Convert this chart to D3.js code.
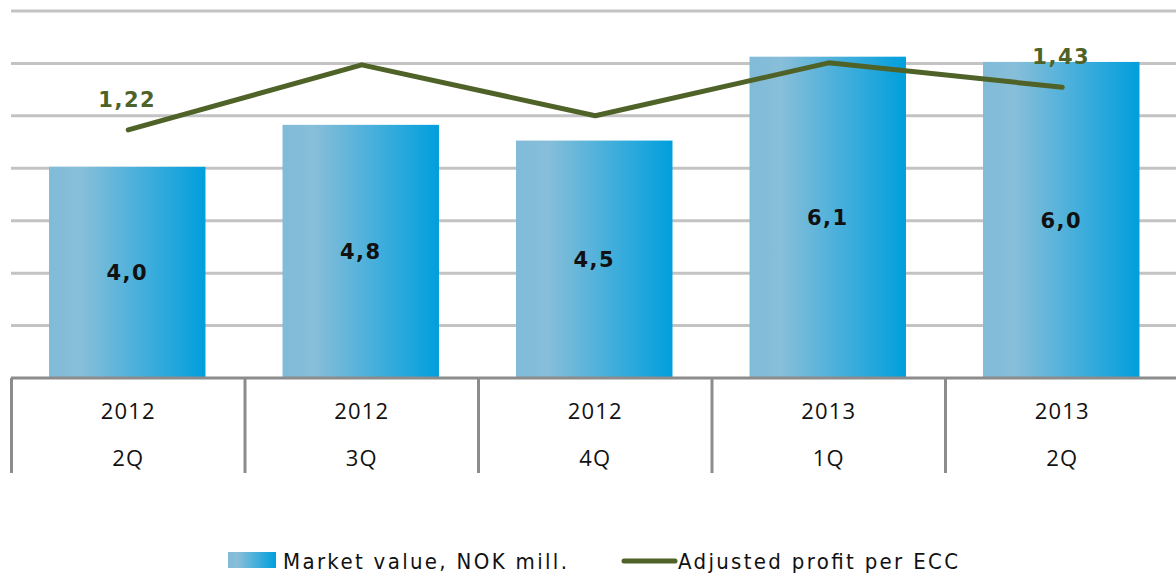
<!DOCTYPE html>
<html>
<head>
  <meta charset="utf-8">
  <script src="https://d3js.org/d3.v7.min.js"></script>
  <style>
    body { margin: 0; background: #fff; }
    svg { display: block; }
  </style>
</head>
<body>
  <svg id="chart" width="1176" height="576"></svg>

  <script>
    // data
    const years = ["2012", "2012", "2012", "2013", "2013"];
    const quarters = ["2Q", "3Q", "4Q", "1Q", "2Q"];
    const marketValue = [4.0, 4.8, 4.5, 6.1, 6.0];
    const profitPerEcc = [1.22, 1.54, 1.29, 1.55, 1.43];
    const labelledPoints = [0, 4]; // only first and last point carry a label
    const leftTicks = [1, 2, 3, 4, 5, 6, 7];

    const svg = d3.select("#chart");
    const keys = years.map((y, i) => i);
    const fmt = (v, n) => v.toFixed(n).replace(".", ",");

    // scales
    const x = d3.scaleBand().domain(keys).range([10.5, 1178]).paddingInner(0.33).paddingOuter(0.165);
    const y = d3.scaleLinear().domain([0, 7]).range([378, 11]);
    const y2 = d3.scaleLinear().domain([0, 1.8]).range([378, 12]);

    // gradient for bars
    const defs = svg.append("defs");
    const grad = defs.append("linearGradient").attr("id", "barGrad")
      .attr("x1", "0%").attr("x2", "100%").attr("y1", "0%").attr("y2", "0%");
    grad.append("stop").attr("offset", "0%").attr("stop-color", "#80bbd8");
    grad.append("stop").attr("offset", "20%").attr("stop-color", "#88bed9");
    grad.append("stop").attr("offset", "100%").attr("stop-color", "#009fdd");

    // gridlines
    svg.append("g")
      .selectAll("line")
      .data(leftTicks)
      .enter()
      .append("line")
      .attr("x1", 11)
      .attr("x2", 1176)
      .attr("y1", d => y(d))
      .attr("y2", d => y(d))
      .attr("stroke", "#c3c3c3")
      .attr("stroke-width", 3);

    // bars
    svg.append("g")
      .selectAll("rect")
      .data(keys)
      .enter()
      .append("rect")
      .attr("x", d => x(d))
      .attr("width", x.bandwidth())
      .attr("y", d => y(marketValue[d]) - 1.5)
      .attr("height", d => y(0) - y(marketValue[d]) + 1.5)
      .attr("fill", "url(#barGrad)");

    // bar labels
    svg.append("g")
      .selectAll("text")
      .data(keys)
      .enter()
      .append("text")
      .attr("x", d => x(d) + x.bandwidth() / 2)
      .attr("y", d => (y(marketValue[d]) + y(0)) / 2)
      .attr("text-anchor", "middle")
      .attr("dominant-baseline", "central")
      .style("font-family", "'DejaVu Sans', Verdana, sans-serif")
      .style("font-weight", "bold")
      .style("font-size", "21px")
      .style("letter-spacing", "1.5px")
      .attr("fill", "#111")
      .text(d => fmt(marketValue[d], 1));

    // category axis: base line + dividers
    const axis = svg.append("g");
    axis.append("line")
      .attr("x1", 11).attr("x2", 1176)
      .attr("y1", y(0)).attr("y2", y(0))
      .attr("stroke", "#8c8c8c").attr("stroke-width", 3);

    const edges = keys.map(d => x(d) - x.step() * x.paddingInner() / 2 + 1);
    axis.selectAll(".divider")
      .data(edges)
      .enter()
      .append("line")
      .attr("class", "divider")
      .attr("x1", d => d).attr("x2", d => d)
      .attr("y1", y(0)).attr("y2", 473)
      .attr("stroke", "#8c8c8c").attr("stroke-width", 3);

    const catFont = "'Open Sans', 'Noto Sans', sans-serif";
    axis.selectAll(".year")
      .data(keys)
      .enter()
      .append("text")
      .attr("class", "year")
      .attr("x", d => x(d) + x.bandwidth() / 2 + 1)
      .attr("y", 419)
      .attr("text-anchor", "middle")
      .style("font-family", catFont)
      .style("font-size", "22px")
      .style("letter-spacing", "1.2px")
      .attr("fill", "#111")
      .text(d => years[d]);

    axis.selectAll(".quarter")
      .data(keys)
      .enter()
      .append("text")
      .attr("class", "quarter")
      .attr("x", d => x(d) + x.bandwidth() / 2 + 1)
      .attr("y", 466)
      .attr("text-anchor", "middle")
      .style("font-family", catFont)
      .style("font-size", "22px")
      .style("letter-spacing", "1.2px")
      .attr("fill", "#111")
      .text(d => quarters[d]);

    // profit line
    const line = d3.line()
      .x(d => x(d) + x.bandwidth() / 2 + 1)
      .y(d => y2(profitPerEcc[d]));

    svg.append("path")
      .datum(keys)
      .attr("d", line)
      .attr("fill", "none")
      .attr("stroke", "#4f6228")
      .attr("stroke-width", 5)
      .attr("stroke-linecap", "round")
      .attr("stroke-linejoin", "round");

    svg.append("g")
      .selectAll("text")
      .data(labelledPoints)
      .enter()
      .append("text")
      .attr("x", d => x(d) + x.bandwidth() / 2)
      .attr("y", d => y2(profitPerEcc[d]) - 30)
      .attr("text-anchor", "middle")
      .attr("dominant-baseline", "central")
      .style("font-family", "'DejaVu Sans', Verdana, sans-serif")
      .style("font-weight", "bold")
      .style("font-size", "21px")
      .style("letter-spacing", "1.5px")
      .attr("fill", "#4f6228")
      .text(d => fmt(profitPerEcc[d], 2));

    // legend
    const legend = svg.append("g");
    const legFont = "'DejaVu Sans Condensed', 'Liberation Sans Narrow', sans-serif";
    legend.append("rect")
      .attr("x", 228).attr("y", 552).attr("width", 48).attr("height", 16)
      .attr("fill", "url(#barGrad)");
    legend.append("text")
      .attr("x", 283).attr("y", 569)
      .attr("textLength", 284)
      .attr("lengthAdjust", "spacing")
      .style("font-family", legFont)
      .style("font-size", "22px")
      .attr("fill", "#111")
      .text("Market value, NOK mill.");
    legend.append("line")
      .attr("x1", 624).attr("x2", 675)
      .attr("y1", 561).attr("y2", 561)
      .attr("stroke", "#4f6228").attr("stroke-width", 5)
      .attr("stroke-linecap", "round");
    legend.append("text")
      .attr("x", 678).attr("y", 569)
      .attr("textLength", 280)
      .attr("lengthAdjust", "spacing")
      .style("font-family", legFont)
      .style("font-size", "22px")
      .attr("fill", "#111")
      .text("Adjusted profit per ECC");
  </script>
</body>
</html>
